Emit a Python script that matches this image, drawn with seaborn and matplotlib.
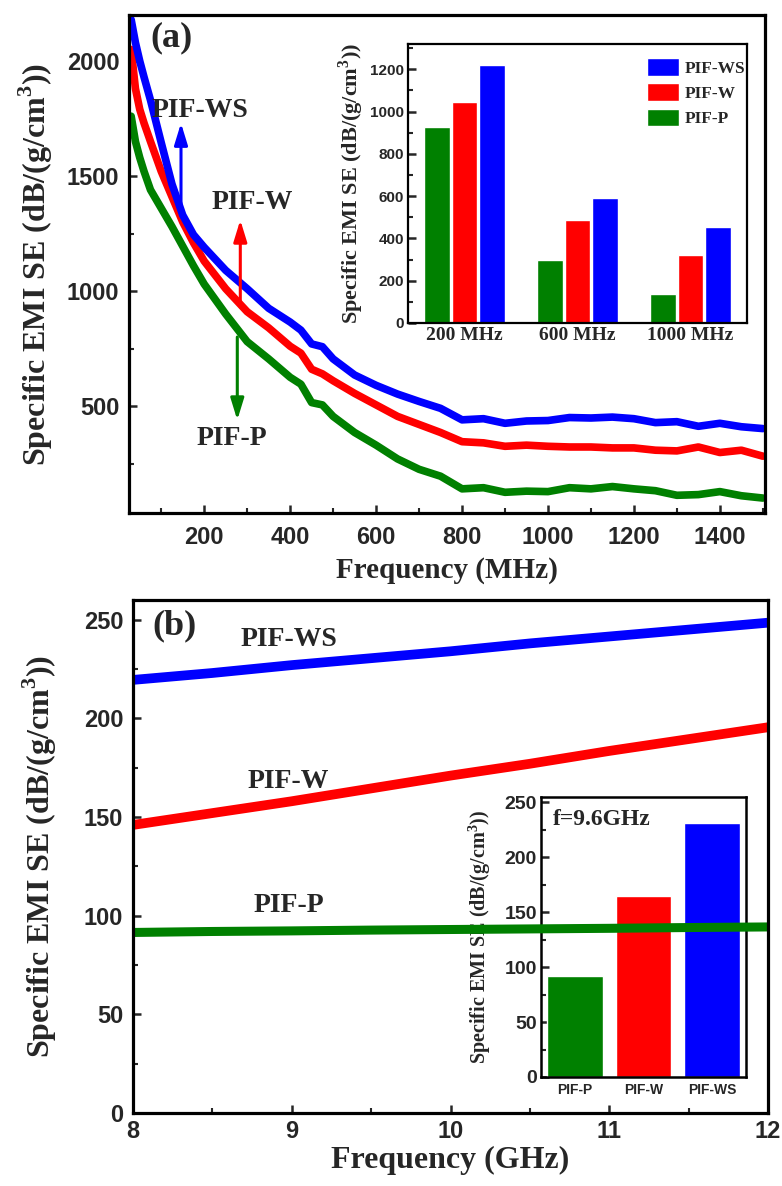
import matplotlib
matplotlib.use("Agg")
import matplotlib.pyplot as plt
import pandas as pd
import seaborn as sns
from matplotlib.ticker import MultipleLocator

# ---- panel (a): specific EMI SE vs frequency (MHz)
freq_mhz = [30, 40, 50, 60, 75, 100, 125, 150, 175, 200, 250, 300, 350, 400, 425,
            450, 475, 500, 550, 600, 650, 700, 750, 800, 850, 900, 950, 1000, 1050,
            1100, 1150, 1200, 1250, 1300, 1350, 1400, 1450, 1500]
ws_mhz = [2180, 2080, 2000, 1930, 1830, 1645, 1465, 1330, 1245, 1190, 1090, 1010, 925,
          865, 830, 770, 758, 705, 635, 590, 552, 520, 490, 440, 445, 425, 435, 437,
          450, 448, 452, 445, 428, 432, 412, 425, 410, 402]
w_mhz = [2050, 1880, 1790, 1730, 1650, 1520, 1410, 1300, 1210, 1130, 1010, 910, 840,
         760, 730, 660, 640, 610, 555, 505, 455, 420, 385, 345, 340, 325, 330, 325,
         322, 322, 318, 318, 308, 305, 322, 298, 308, 282]
p_mhz = [1760, 1650, 1580, 1520, 1440, 1360, 1280, 1195, 1110, 1030, 900, 780, 705,
         625, 595, 515, 505, 455, 385, 330, 270, 225, 195, 140, 145, 125, 130, 128,
         145, 140, 150, 140, 132, 112, 115, 128, 110, 100]

# inset (a): bars at three frequencies
bar_freqs = ["200 MHz", "600 MHz", "1000 MHz"]
bar_p = [925, 298, 138]
bar_w = [1045, 488, 322]
bar_ws = [1220, 593, 452]

# ---- panel (b): specific EMI SE vs frequency (GHz)
freq_ghz = [8.0, 8.5, 9.0, 9.5, 10.0, 10.5, 11.0, 11.5, 12.0]
ws_ghz = [219.5, 223, 227, 230.5, 234, 238, 241.5, 245, 248.5]
w_ghz = [146, 152, 158, 164.5, 171, 177, 183.5, 189.5, 195.5]
p_ghz = [91.5, 92, 92.3, 92.7, 93, 93.3, 93.6, 94, 94.3]

# inset (b): bars at 9.6 GHz
samples = ["PIF-P", "PIF-W", "PIF-WS"]
se_96 = [92, 165, 231]

GREEN, RED, BLUE = "#008000", "#ff0000", "#0000ff"
SANS = "Liberation Sans"
SERIF = "Liberation Serif"

sns.set_style("ticks")
plt.rcParams["font.family"] = [SANS, "DejaVu Sans"]
plt.rcParams["font.weight"] = "bold"
plt.rcParams["mathtext.fontset"] = "custom"
plt.rcParams["mathtext.rm"] = "Liberation Serif:bold"
plt.rcParams["mathtext.bf"] = "Liberation Serif:bold"

YLABEL = r"Specific EMI SE (dB/(g/cm$^{\mathbf{3}}$))"


def style_axes(ax, spine_w=2.3, size=17, pad=7):
    for s in ax.spines.values():
        s.set_visible(True)
        s.set_linewidth(spine_w)
        s.set_color("black")
    ax.tick_params(which="major", direction="in", length=6, width=1.8,
                   labelsize=size, pad=pad, top=False, right=False)
    ax.tick_params(which="minor", direction="in", length=3.5, width=1.5,
                   top=False, right=False)
    for lab in ax.get_xticklabels() + ax.get_yticklabels():
        lab.set_fontweight("bold")
        lab.set_fontfamily(SANS)


fig = plt.figure(figsize=(7.82, 11.86), dpi=100)

# ================= panel (a)
ax_a = fig.add_axes([0.16496, 0.56745, 0.81330, 0.41990])
for vals, col in [(p_mhz, GREEN), (w_mhz, RED), (ws_mhz, BLUE)]:
    sns.lineplot(x=freq_mhz, y=vals, color=col, lw=5.5, ax=ax_a)
ax_a.set_xlim(25, 1505)
ax_a.set_ylim(35, 2200)
ax_a.xaxis.set_major_locator(MultipleLocator(200))
ax_a.xaxis.set_minor_locator(MultipleLocator(100))
ax_a.yaxis.set_major_locator(MultipleLocator(500))
ax_a.yaxis.set_minor_locator(MultipleLocator(250))
ax_a.set_xticks([200, 400, 600, 800, 1000, 1200, 1400])
style_axes(ax_a)
ax_a.tick_params(axis="x", pad=9)
ax_a.set_xlabel("Frequency (MHz)", fontsize=21, fontweight="bold", family=SERIF, labelpad=6)
ax_a.set_ylabel(YLABEL, fontsize=23, fontweight="bold", family=SERIF)
ax_a.yaxis.set_label_coords(-0.116, 0.5)

ax_a.text(123, 2100, "(a)", fontsize=26, fontweight="bold", family=SERIF,
          ha="center", va="center")
lab_kw = dict(fontsize=20, fontweight="bold", family=SERIF, ha="center", va="center")
ax_a.text(191, 1783, "PIF-WS", **lab_kw)
ax_a.text(312, 1383, "PIF-W", **lab_kw)
ax_a.text(265, 361, "PIF-P", **lab_kw)
arrow = "-|>,head_length=1.3,head_width=0.4"
for x0, y0, y1, col in [(146, 1352, 1730, BLUE), (284, 930, 1309, RED), (277, 800, 439, GREEN)]:
    ax_a.annotate("", xy=(x0, y1), xytext=(x0, y0),
                  arrowprops=dict(arrowstyle=arrow, color=col, lw=2.2, shrinkA=0, shrinkB=0))

# inset (a)
ax_ia = fig.add_axes([0.52174, 0.72766, 0.43350, 0.23524])
bars_a = pd.DataFrame({
    "freq": bar_freqs * 3,
    "se": bar_p + bar_w + bar_ws,
    "sample": ["PIF-P"] * 3 + ["PIF-W"] * 3 + ["PIF-WS"] * 3,
})
sns.barplot(data=bars_a, x="freq", y="se", hue="sample",
            palette=[GREEN, RED, BLUE], width=0.74, gap=0.07,
            saturation=1, ax=ax_ia)
ax_ia.set_xlim(-0.5, 2.5)
ax_ia.set_ylim(0, 1320)
ax_ia.yaxis.set_major_locator(MultipleLocator(200))
ax_ia.yaxis.set_minor_locator(MultipleLocator(100))
style_axes(ax_ia, spine_w=1.6, size=11, pad=3)
ax_ia.tick_params(axis="x", length=0, pad=3)
for lab in ax_ia.get_xticklabels():
    lab.set_fontfamily(SERIF)
    lab.set_fontsize(14)
ax_ia.set_xlabel("")
ax_ia.set_ylabel(YLABEL, fontsize=16, fontweight="bold", family=SERIF)
ax_ia.yaxis.set_label_coords(-0.125, 0.5)
handles, labels = ax_ia.get_legend_handles_labels()
ax_ia.legend(handles[::-1], labels[::-1], loc="upper left",
             bbox_to_anchor=(0.705, 0.95), frameon=False, borderpad=0,
             borderaxespad=0, handlelength=1.85, handleheight=1.2,
             handletextpad=0.35, labelspacing=0.38,
             prop={"family": SERIF, "weight": "bold", "size": 12.5})

# ================= panel (b)
ax_b = fig.add_axes([0.17008, 0.06155, 0.81202, 0.43255])
ax_ib = fig.add_axes([0.69182, 0.09191, 0.26215, 0.23609])
ax_ib.set_zorder(-1)
ax_b.set_zorder(1)
ax_b.patch.set_alpha(0)

for vals, col, lw in [(ws_ghz, BLUE, 7), (w_ghz, RED, 7), (p_ghz, GREEN, 6.5)]:
    sns.lineplot(x=freq_ghz, y=vals, color=col, lw=lw, ax=ax_b)
ax_b.set_xlim(8, 12)
ax_b.set_ylim(0, 260)
ax_b.xaxis.set_major_locator(MultipleLocator(1))
ax_b.xaxis.set_minor_locator(MultipleLocator(0.5))
ax_b.yaxis.set_major_locator(MultipleLocator(50))
ax_b.yaxis.set_minor_locator(MultipleLocator(25))
style_axes(ax_b)
ax_b.tick_params(axis="x", pad=5)
ax_b.set_xlabel("Frequency (GHz)", fontsize=23, fontweight="bold", family=SERIF, labelpad=2)
ax_b.set_ylabel(YLABEL, fontsize=23, fontweight="bold", family=SERIF)
ax_b.yaxis.set_label_coords(-0.116, 0.5)
ax_b.text(8.26, 247, "(b)", fontsize=26, fontweight="bold", family=SERIF,
          ha="center", va="center")
ax_b.text(8.98, 240, "PIF-WS", **lab_kw)
ax_b.text(8.98, 168, "PIF-W", **lab_kw)
ax_b.text(8.98, 105, "PIF-P", **lab_kw)

# inset (b)
sns.barplot(x=samples, y=se_96, hue=samples, palette=[GREEN, RED, BLUE],
            width=0.81, saturation=1, legend=False, ax=ax_ib)
ax_ib.set_xlim(-0.5, 2.5)
ax_ib.set_ylim(0, 255)
ax_ib.yaxis.set_major_locator(MultipleLocator(50))
ax_ib.yaxis.set_minor_locator(MultipleLocator(25))
style_axes(ax_ib, spine_w=1.8, size=14, pad=3)
ax_ib.tick_params(axis="x", length=0, pad=4, labelsize=10)
ax_ib.set_ylabel(YLABEL, fontsize=14.5, fontweight="bold", family=SERIF)
ax_ib.yaxis.set_label_coords(-0.235, 0.5)
ax_ib.text(0.06, 0.9, "f=9.6GHz", transform=ax_ib.transAxes, fontsize=17,
           fontweight="bold", family=SERIF, ha="left", va="baseline")

fig.savefig("out.png", dpi=100, facecolor="white")
